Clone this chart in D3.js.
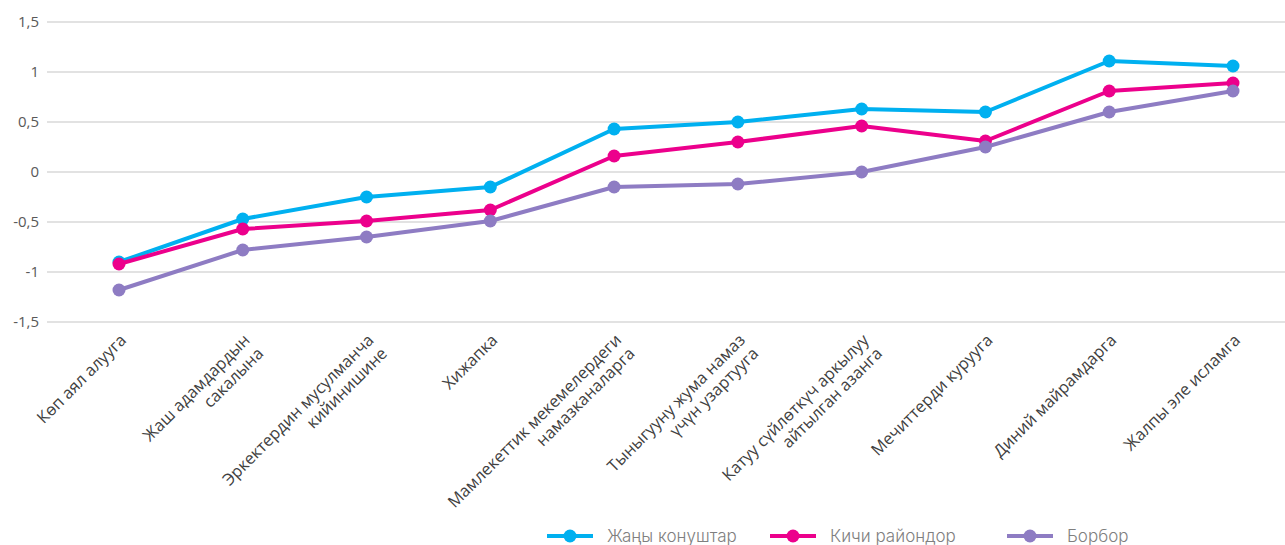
<!DOCTYPE html>
<html>
<head>
<meta charset="utf-8">
<script src="https://cdnjs.cloudflare.com/ajax/libs/d3/7.8.5/d3.min.js"></script>
<style>
  body { margin: 0; background: #fff; }
  svg { display: block; }
</style>
</head>
<body>
<div id="chart"></div>
<script>
// Chart size
const width = 1285, height = 545;

// Categories (line breaks as in the original)
const categories = [
    ["Көп аял алууга"],
    ["Жаш адамдардын", "сакалына"],
    ["Эркектердин мусулманча", "кийинишине"],
    ["Хижапка"],
    ["Мамлекеттик мекемелердеги", "намазканаларга"],
    ["Тыныгууну жума намаз", "үчүн узартууга"],
    ["Катуу сүйлөткүч аркылуу", "айтылган азанга"],
    ["Мечиттерди курууга"],
    ["Диний майрамдарга"],
    ["Жалпы эле исламга"]
];

// Series values
const newSettlements = [-0.90, -0.47, -0.25, -0.15, 0.43, 0.50, 0.63, 0.60, 1.11, 1.06];
const smallDistricts = [-0.92, -0.57, -0.49, -0.38, 0.16, 0.30, 0.46, 0.31, 0.81, 0.89];
const center = [-1.18, -0.78, -0.65, -0.49, -0.15, -0.12, 0.00, 0.25, 0.60, 0.81];

const seriesNames = ["Жаңы конуштар", "Кичи райондор", "Борбор"];
const yTicks = [-1.5, -1, -0.5, 0, 0.5, 1, 1.5];

const colors = ["#00B0F0", "#EC008C", "#8E7CC3"];
const series = [newSettlements, smallDistricts, center];

const svg = d3.select("#chart").append("svg")
    .attr("width", width)
    .attr("height", height);

// Scales
const x = d3.scalePoint()
    .domain(d3.range(categories.length))
    .range([119, 1233]);

const y = d3.scaleLinear()
    .domain([-1.5, 1.5])
    .range([322, 22]);

// Gridlines
svg.append("g")
    .selectAll("line")
    .data(yTicks)
    .join("line")
    .attr("x1", 47)
    .attr("x2", width)
    .attr("y1", d => y(d))
    .attr("y2", d => y(d))
    .attr("stroke", "#d9d9d9")
    .attr("stroke-width", 1.5);

// Y axis labels (comma decimal)
svg.append("g")
    .selectAll("text")
    .data(yTicks)
    .join("text")
    .attr("x", 39)
    .attr("y", d => y(d))
    .attr("dy", "0.35em")
    .attr("text-anchor", "end")
    .style("font-family", "'Open Sans', sans-serif")
    .style("font-size", "15px")
    .style("fill", "#595959")
    .text(d => String(d).replace(".", ","));

// Lines and markers
const line = d3.line()
    .x((d, i) => x(i))
    .y(d => y(d));

series.forEach(function (values, s) {
    const g = svg.append("g");
    g.append("path")
        .datum(values)
        .attr("d", line)
        .attr("fill", "none")
        .attr("stroke", colors[s])
        .attr("stroke-width", 4)
        .attr("stroke-linejoin", "round");
    g.selectAll("circle")
        .data(values)
        .join("circle")
        .attr("cx", (d, i) => x(i))
        .attr("cy", d => y(d))
        .attr("r", 6.5)
        .attr("fill", colors[s]);
});

// Category labels rotated -45deg, lines right-aligned at the tick
const lineH = 19;
const labels = svg.append("g")
    .style("font-family", "'Open Sans', sans-serif")
    .style("font-size", "16.5px")
    .style("fill", "#404040");

categories.forEach(function (lines, i) {
    const t = labels.append("text")
        .attr("transform", `translate(${x(i) - 1},${332}) rotate(-45)`)
        .attr("text-anchor", "end");
    lines.forEach(function (l, k) {
        t.append("tspan")
            .attr("x", 0)
            .attr("y", 13 + k * lineH)
            .text(l);
    });
});

// Legend
const legendX = [547, 770, 1007];
const legend = svg.append("g");
seriesNames.forEach(function (name, s) {
    const lx = legendX[s], ly = 536;
    legend.append("line")
        .attr("x1", lx).attr("x2", lx + 46)
        .attr("y1", ly).attr("y2", ly)
        .attr("stroke", colors[s])
        .attr("stroke-width", 4);
    legend.append("circle")
        .attr("cx", lx + 23).attr("cy", ly)
        .attr("r", 6.5)
        .attr("fill", colors[s]);
    legend.append("text")
        .attr("x", lx + 60)
        .attr("y", ly)
        .attr("dy", "0.35em")
        .style("font-family", "Inter, sans-serif")
        .style("font-weight", 300)
        .style("font-size", "17px")
        .style("fill", "#7f7f7f")
        .text(name);
});
</script>
</body>
</html>
